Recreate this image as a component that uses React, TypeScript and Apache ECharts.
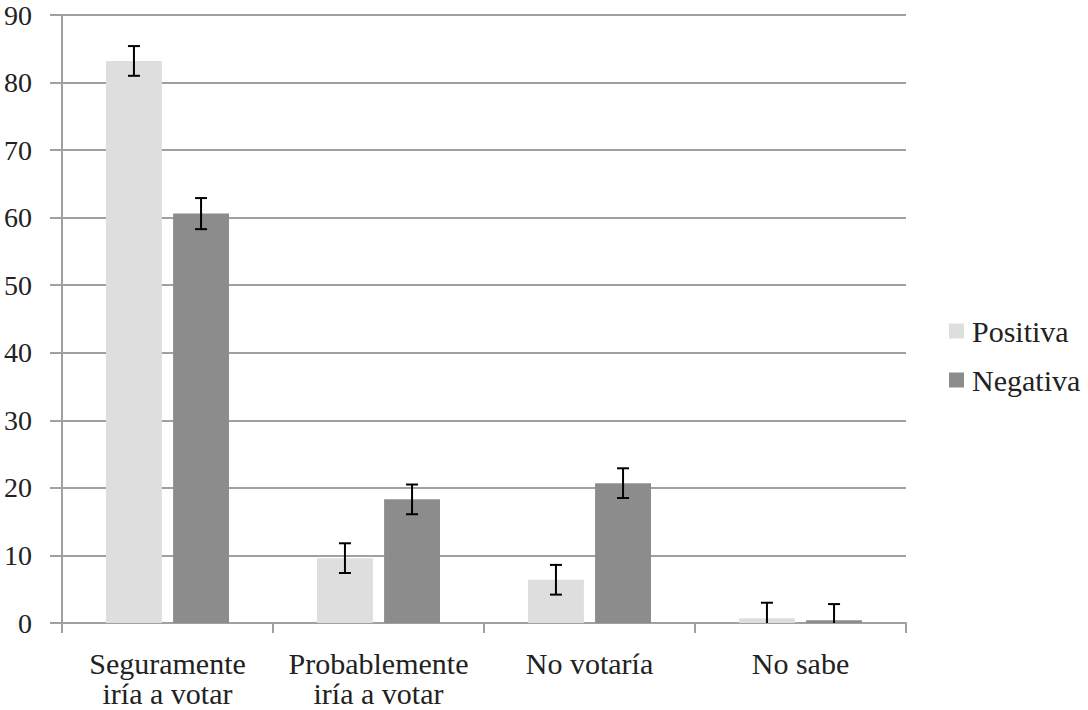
import React, { useEffect, useRef } from "react";
import * as echarts from "echarts";

const categories = ["Seguramente\niría a votar", "Probablemente\niría a votar", "No votaría", "No sabe"];
const positiva = [83.2, 9.6, 6.4, 0.7];
const negativa = [60.6, 18.3, 20.7, 0.4];
const positivaErr = [2.2, 2.2, 2.2, 2.3];
const negativaErr = [2.3, 2.2, 2.2, 2.4];
const yTicks = { min: 0, max: 90, interval: 10 };

const FONT = "Liberation Serif";

function errorSeries(name: string, values: number[], errs: number[], sign: number) {
  return {
    type: "custom",
    name: name + "_err",
    z: 10,
    silent: true,
    tooltip: { show: false },
    data: values.map((v, i) => [i, v, errs[i]]),
    encode: { x: 0, y: 1 },
    renderItem: (params: any, api: any) => {
      const idx = api.value(0);
      const v = api.value(1);
      const e = api.value(2);
      const bandW = api.size([1, 0])[0];
      const off = sign * bandW * 0.159;
      const top = api.coord([idx, v + e]);
      const clipped = v - e < 0;
      const bot = api.coord([idx, Math.max(0, v - e)]);
      const x = top[0] + off;
      const cap = 6;
      const style = { stroke: "#000", lineWidth: 2 };
      const children: any[] = [
        { type: "line", shape: { x1: x, y1: top[1], x2: x, y2: bot[1] }, style },
        { type: "line", shape: { x1: x - cap, y1: top[1], x2: x + cap, y2: top[1] }, style },
      ];
      if (!clipped) {
        children.push({ type: "line", shape: { x1: x - cap, y1: bot[1], x2: x + cap, y2: bot[1] }, style });
      }
      return { type: "group", children };
    },
  };
}

export default function App() {
  const ref = useRef<HTMLDivElement>(null);
  useEffect(() => {
    if (!ref.current) return;
    const chart = echarts.init(ref.current, undefined, { renderer: "svg" });
    chart.setOption({
      animation: false,
      backgroundColor: "#fff",
      textStyle: { fontFamily: FONT },
      grid: { left: 62, right: 182, top: 15, bottom: 87, containLabel: false, outerBoundsMode: "none" },
      legend: {
        orient: "vertical",
        left: 944,
        top: 311,
        itemWidth: 15,
        itemHeight: 15,
        itemGap: 19,
        icon: "rect",
        data: ["Positiva", "Negativa"],
        textStyle: { fontFamily: FONT, fontSize: 30, color: "#222", padding: [0, 0, 0, 3] },
      },
      xAxis: {
        type: "category",
        data: categories,
        axisLine: { show: true, lineStyle: { color: "#a0a0a0", width: 2 } },
        axisTick: { show: true, length: 10, lineStyle: { color: "#a0a0a0", width: 2 } },
        axisLabel: {
          fontFamily: FONT,
          fontSize: 30,
          color: "#222",
          lineHeight: 30,
          margin: 25,
          interval: 0,
        },
        splitLine: { show: false },
      },
      yAxis: {
        type: "value",
        min: yTicks.min,
        max: yTicks.max,
        interval: yTicks.interval,
        axisLine: { show: true, lineStyle: { color: "#a0a0a0", width: 2 } },
        axisTick: { show: true, length: 12, lineStyle: { color: "#a0a0a0", width: 2 } },
        axisLabel: { fontFamily: FONT, fontSize: 28, color: "#222", margin: 30 },
        splitLine: { show: true, lineStyle: { color: "#a0a0a0", width: 2 } },
      },
      series: [
        {
          name: "Positiva",
          type: "bar",
          data: positiva,
          barWidth: "26.5%",
          barGap: "20%",
          itemStyle: { color: "#dedede" },
        },
        {
          name: "Negativa",
          type: "bar",
          data: negativa,
          barWidth: "26.5%",
          barGap: "20%",
          itemStyle: { color: "#8c8c8c" },
        },
        errorSeries("Positiva", positiva, positivaErr, -1),
        errorSeries("Negativa", negativa, negativaErr, 1),
      ],
    });
    return () => chart.dispose();
  }, []);
  return <div ref={ref} style={{ width: 1088, height: 710, position: "absolute", left: 0, top: 0 }} />;
}
